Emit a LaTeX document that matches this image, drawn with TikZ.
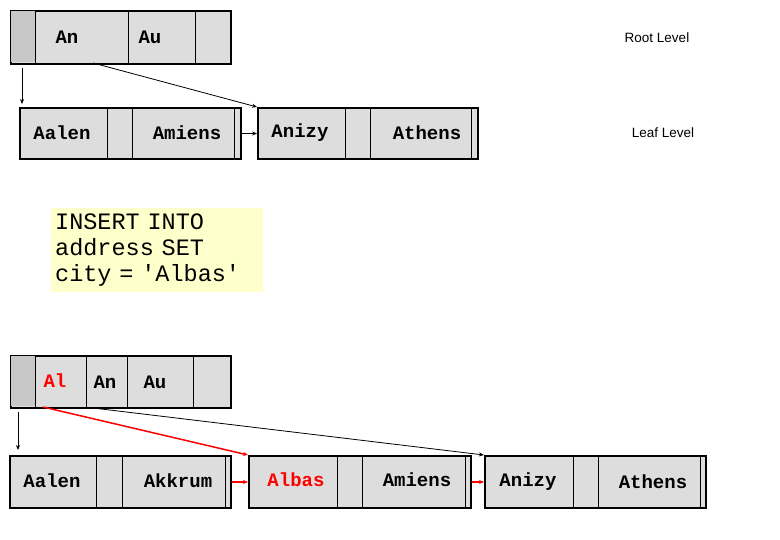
\documentclass[tikz,border=0pt]{standalone}
\usepackage{fontspec}
\setmonofont{Liberation Mono}
\setsansfont{Liberation Sans}
\usetikzlibrary{arrows.meta}
\definecolor{cellgray}{HTML}{DDDDDD}
\definecolor{headgray}{HTML}{C8C8C8}
\definecolor{notebg}{HTML}{FFFFCC}
\tikzset{
  box/.style={draw, line width=2pt, fill=cellgray, anchor=north west, inner sep=0pt},
  key/.style={font=\fontsize{19}{22}\selectfont\ttfamily\bfseries},
  level/.style={font=\fontsize{13.5}{16}\selectfont\sffamily},
  ptr/.style={-{Stealth[length=5pt,width=4pt]}, line width=0.8pt},
}
\begin{document}
\begin{tikzpicture}[x=1pt, y=-1pt]
    \useasboundingbox (0,0) rectangle (780,540);

    % Root level (before)
    \node[box, minimum width=220, minimum height=53] (r1) at (10,10) {};
    \fill[headgray] (11,11) rectangle (35,62);
    \draw[line width=1pt] (35,10) -- (35,63) (128,10) -- (128,63) (195,10) -- (195,63);
    \node[key] (r1an) at (67,37) {An};
    \node[key] (r1au) at (150,37) {Au};
    \node[level] (rootlbl) at (657,38) {Root Level};

    % Leaf level (before)
    \node[box, minimum width=221, minimum height=51] (a1) at (19,107) {};
    \draw[line width=1pt] (107,107) -- (107,158) (132,107) -- (132,158) (234,107) -- (234,158);
    \node[key] at (62,133) {Aalen};
    \node[key] at (187,133) {Amiens};
    \node[box, minimum width=220, minimum height=51] (a2) at (257,107) {};
    \draw[line width=1pt] (345,107) -- (345,158) (370,107) -- (370,158) (471,107) -- (471,158);
    \node[key] at (300,133) {Anizy};
    \node[key] at (427,133) {Athens};
    \node[level] (leaflbl) at (663,133) {Leaf Level};

    \draw[ptr] (22,68) -- (22,104);
    \draw[ptr] (93,63) -- (a2.north west);
    \draw[ptr] (a1.east) -- (a2.west);

    % Statement
    \node[fill=notebg, anchor=north west, minimum width=212, minimum height=84,
          align=left, inner sep=4pt, text width=204,
          font=\fontsize{23.5}{26}\selectfont\ttfamily] (sql) at (51,208)
          {INSERT INTO\\address SET\\city = 'Albas'};

    % Root level (after)
    \node[box, minimum width=220, minimum height=52] (r2) at (10,355) {};
    \fill[headgray] (11,356) rectangle (35,406);
    \draw[line width=1pt] (35,355) -- (35,407) (86,355) -- (86,407) (127,355) -- (127,407) (193,355) -- (193,407);
    \node[key, red] (r2al) at (55,381) {Al};
    \node[key] (r2an) at (105,382) {An};
    \node[key] (r2au) at (155,382) {Au};

    % Leaf level (after)
    \node[box, minimum width=221, minimum height=52] (b1) at (9,455) {};
    \draw[line width=1pt] (96,455) -- (96,507) (122,455) -- (122,507) (225,455) -- (225,507);
    \node[key] at (52,481) {Aalen};
    \node[key] at (178,481) {Akkrum};
    \node[box, minimum width=222, minimum height=52] (b2) at (248,455) {};
    \draw[line width=1pt] (337,455) -- (337,507) (362,455) -- (362,507) (465,455) -- (465,507);
    \node[key, red] at (296,480) {Albas};
    \node[key] at (417,480) {Amiens};
    \node[box, minimum width=221, minimum height=52] (b3) at (484,455) {};
    \draw[line width=1pt] (573,455) -- (573,507) (598,455) -- (598,507) (700,455) -- (700,507);
    \node[key] at (528,482) {Anizy};
    \node[key] at (653,482) {Athens};

    \draw[ptr] (18,412) -- (18,450);
    \draw[ptr, red, line width=1.5pt] (43,407) -- (b2.north west);
    \draw[ptr] (93,408) -- (b3.north west);
    \draw[ptr, red, line width=1.5pt] (b1.east) -- (b2.west);
    \draw[ptr, red, line width=1.5pt] (b2.east) -- (b3.west);
\end{tikzpicture}
\end{document}
